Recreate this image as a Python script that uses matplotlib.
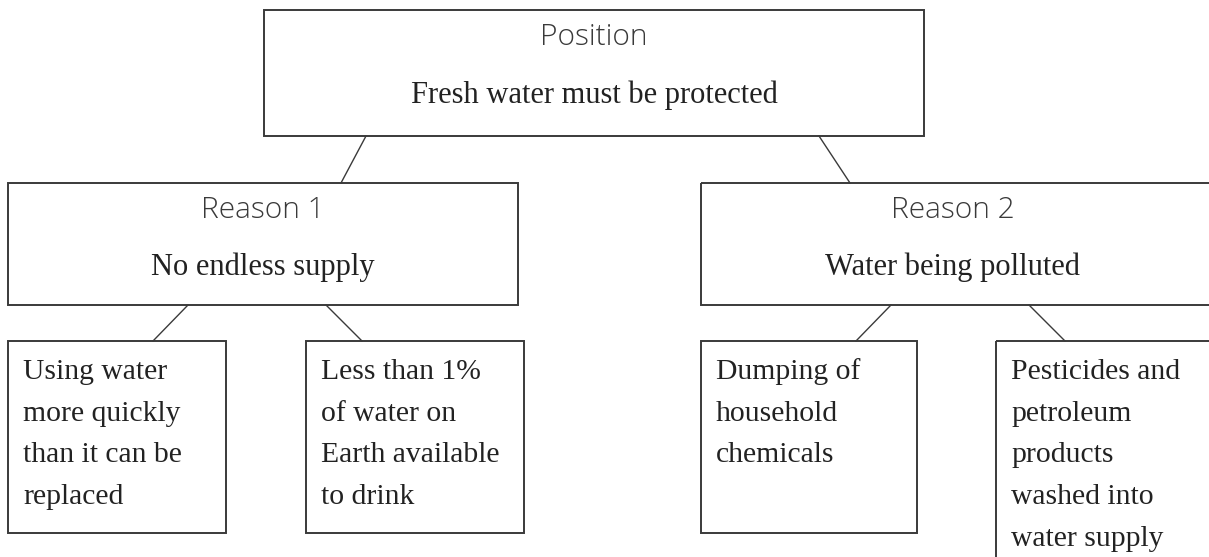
import matplotlib
import matplotlib.pyplot as plt
from matplotlib.patches import Rectangle
matplotlib.use("Agg")

# node texts
position_title = "Position"
position_text = "Fresh water must be protected"
reason_titles = ["Reason 1", "Reason 2"]
reason_texts = ["No endless supply", "Water being polluted"]
detail_texts = [
    ["Using water", "more quickly", "than it can be", "replaced"],
    ["Less than 1%", "of water on", "Earth available", "to drink"],
    ["Dumping of", "household", "chemicals"],
    ["Pesticides and", "petroleum", "products", "washed into", "water supply"],
]

# layout in pixel units (x0, y0, x1, y1)
top_box = (264, 10, 924, 136)
reason_boxes = [(8, 183, 518, 305), (701, 183, 1216, 305)]
detail_boxes = [(8, 341, 226, 533), (306, 341, 524, 533),
                (701, 341, 917, 533), (996, 341, 1216, 600)]
top_links = [((366, 136), (341, 183)), ((819, 136), (850, 183))]
reason_links = [((188, 305), (153, 341)), ((326, 305), (362, 341)),
                ((891, 305), (856, 341)), ((1029, 305), (1065, 341))]

edge = "#3a3a3a"
lw = 1.4
sans = dict(family=["Open Sans", "DejaVu Sans"], fontweight="light", color="#3a3a3a")
serif = dict(family=["Liberation Serif", "DejaVu Serif"], color="#222222")

fig = plt.figure(figsize=(12.09, 5.57), dpi=100)
ax = fig.add_axes([0, 0, 1, 1])
ax.set_xlim(0, 1209)
ax.set_ylim(557, 0)
ax.axis("off")


def box(b):
    x0, y0, x1, y1 = b
    ax.add_patch(Rectangle((x0, y0), x1 - x0, y1 - y0, fill=False,
                           edgecolor=edge, linewidth=lw))


box(top_box)
cx = (top_box[0] + top_box[2]) / 2
ax.text(cx, 37, position_title, ha="center", va="center", fontsize=21.5, **sans)
ax.text(cx, 95, position_text, ha="center", va="center", fontsize=22, **serif)

for b, title, txt in zip(reason_boxes, reason_titles, reason_texts):
    box(b)
    cx = (b[0] + b[2]) / 2 if b[2] < 1209 else (b[0] + b[2]) / 2 - 6
    ax.text(cx, 210, title, ha="center", va="center", fontsize=21.5, **sans)
    ax.text(cx, 267, txt, ha="center", va="center", fontsize=22, **serif)

for b, lines in zip(detail_boxes, detail_texts):
    box(b)
    for i, line in enumerate(lines):
        ax.text(b[0] + 15, 372 + i * 41.7, line, ha="left", va="center",
                fontsize=21.3, **serif)

for (p, q) in top_links + reason_links:
    ax.plot([p[0], q[0]], [p[1], q[1]], color=edge, linewidth=1.0)

fig.savefig("out.png", dpi=100)
